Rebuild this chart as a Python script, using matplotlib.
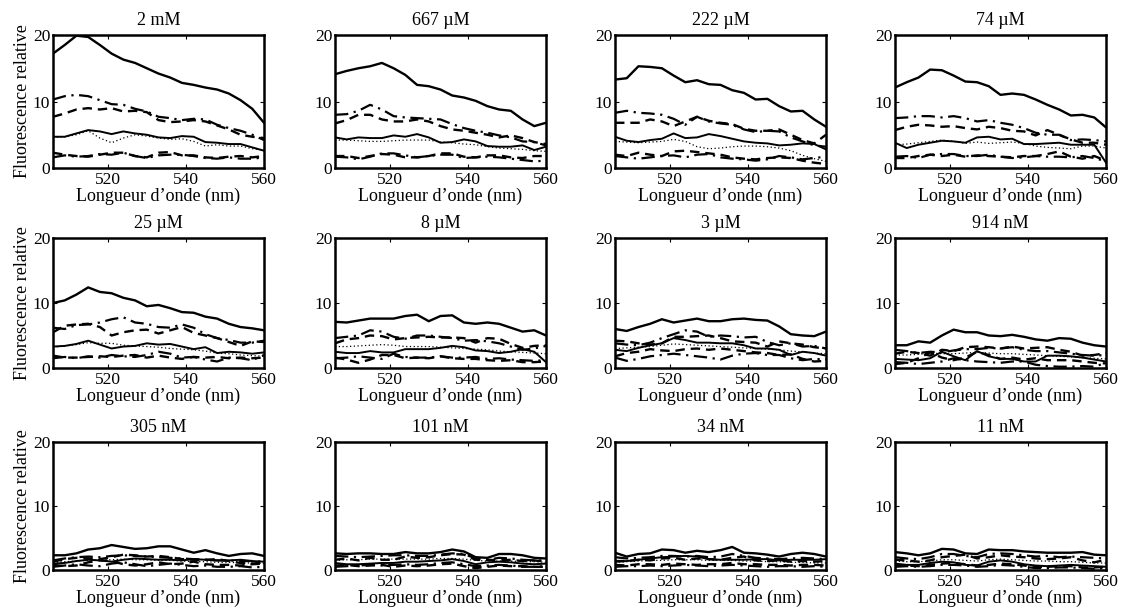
import matplotlib
matplotlib.use("Agg")
import matplotlib.pyplot as plt
import numpy as np

plt.rcParams['font.family'] = ['Liberation Serif', 'DejaVu Serif']

# wavelengths (nm), one reading every 3 nm
wl = np.arange(506, 561, 3)

labels = ['2 mM', '667 µM', '222 µM', '74 µM',
          '25 µM', '8 µM', '3 µM', '914 nM',
          '305 nM', '101 nM', '34 nM', '11 nM']

top_solid = [
    [17.2, 18.5, 19.9, 19.7, 18.5, 17.2, 16.3, 15.8, 15.0, 14.2, 13.6, 12.8, 12.5, 12.1, 11.8, 11.2, 10.2, 8.9, 6.8],
    [14.1, 14.6, 15.0, 15.3, 15.8, 15.0, 14.0, 12.5, 12.3, 11.8, 10.9, 10.6, 10.1, 9.3, 8.8, 8.6, 7.3, 6.3, 6.8],
    [13.3, 13.5, 15.3, 15.2, 15.0, 13.9, 12.9, 13.2, 12.6, 12.5, 11.7, 11.3, 10.3, 10.4, 9.3, 8.5, 8.6, 7.3, 6.2],
    [12.1, 12.9, 13.6, 14.8, 14.7, 13.9, 13.0, 12.9, 12.3, 11.0, 11.2, 11.0, 10.3, 9.5, 8.8, 7.9, 8.0, 7.6, 6.1],
    [10.0, 10.4, 11.3, 12.4, 11.7, 11.5, 10.8, 10.4, 9.5, 9.7, 9.2, 8.6, 8.5, 7.9, 7.6, 6.8, 6.3, 6.1, 5.8],
    [7.1, 7.0, 7.3, 7.6, 7.6, 7.6, 8.0, 8.2, 7.2, 8.0, 8.1, 7.0, 6.8, 7.0, 6.8, 6.2, 5.6, 5.8, 5.0],
    [6.0, 5.7, 6.3, 6.8, 7.5, 7.0, 7.3, 7.6, 7.2, 7.2, 7.5, 7.6, 7.4, 7.3, 6.4, 5.2, 5.0, 4.9, 5.6],
    [3.5, 3.5, 4.1, 3.9, 5.0, 5.9, 5.5, 5.5, 5.0, 4.9, 5.1, 4.8, 4.4, 4.2, 4.6, 4.5, 3.9, 3.5, 3.3],
    [2.3, 2.3, 2.6, 3.2, 3.4, 3.9, 3.6, 3.3, 3.4, 3.7, 3.7, 3.2, 2.7, 3.1, 2.6, 2.2, 2.5, 2.6, 2.2],
    [2.6, 2.5, 2.6, 2.6, 2.5, 2.5, 2.8, 2.6, 2.6, 2.8, 3.2, 2.9, 2.0, 1.9, 2.5, 2.5, 2.3, 1.9, 1.8],
    [2.7, 2.1, 2.5, 2.6, 3.2, 3.1, 2.7, 3.0, 2.8, 3.1, 3.6, 2.7, 2.6, 2.4, 2.1, 2.5, 2.7, 2.5, 2.1],
    [2.8, 2.6, 2.3, 2.6, 3.3, 3.2, 2.6, 2.5, 3.2, 3.1, 3.1, 2.9, 2.8, 2.7, 2.7, 2.7, 2.8, 2.4, 2.3],
]

upper_dashdot = [
    [10.3, 10.8, 11.0, 10.8, 10.2, 9.6, 9.5, 8.9, 8.5, 7.7, 7.5, 7.2, 7.4, 7.3, 6.5, 6.0, 5.6, 5.0, 4.2],
    [8.0, 8.1, 8.6, 9.5, 8.8, 7.8, 7.6, 7.5, 7.4, 7.3, 6.6, 6.0, 5.6, 5.3, 4.9, 4.6, 4.0, 3.9, 3.4],
    [8.3, 8.6, 8.3, 8.2, 8.0, 7.4, 6.5, 7.7, 7.0, 6.7, 6.5, 5.8, 5.4, 5.6, 5.5, 4.6, 4.0, 3.4, 3.2],
    [7.5, 7.6, 7.8, 7.8, 7.6, 7.8, 7.5, 7.0, 7.2, 6.8, 6.5, 6.0, 5.3, 5.0, 5.0, 4.2, 4.3, 4.2, 4.0],
    [6.2, 6.0, 6.6, 6.7, 7.0, 7.5, 7.8, 7.0, 6.8, 6.3, 6.2, 6.7, 6.2, 5.2, 4.6, 4.3, 3.9, 3.9, 4.2],
    [4.6, 4.8, 5.0, 5.8, 5.6, 4.8, 4.5, 5.0, 5.0, 4.8, 4.6, 4.2, 4.3, 4.1, 3.8, 3.3, 2.8, 3.0, 3.4],
    [3.8, 3.6, 3.5, 3.9, 4.6, 5.2, 5.8, 5.6, 4.8, 5.0, 4.9, 4.7, 4.8, 4.0, 3.5, 3.8, 3.3, 3.4, 3.0],
    [2.8, 2.6, 2.3, 2.5, 2.4, 2.7, 2.9, 2.9, 3.1, 3.0, 3.2, 2.8, 2.6, 2.6, 2.4, 2.2, 2.0, 1.9, 2.0],
    [1.5, 1.8, 2.0, 2.1, 2.0, 2.2, 2.3, 2.2, 2.1, 2.0, 1.9, 1.8, 1.7, 1.6, 1.5, 1.5, 1.4, 1.4, 1.3],
    [2.2, 2.1, 2.0, 2.1, 2.2, 2.3, 2.3, 2.2, 2.2, 2.4, 2.6, 2.5, 1.8, 1.6, 1.9, 1.8, 1.6, 1.5, 1.5],
    [2.0, 1.8, 1.9, 2.0, 2.2, 2.2, 2.1, 2.2, 2.0, 2.1, 2.5, 2.2, 1.9, 1.8, 1.7, 1.8, 1.9, 1.8, 1.7],
    [2.0, 1.8, 1.7, 2.0, 2.5, 2.5, 2.2, 2.0, 2.5, 2.6, 2.5, 2.3, 2.1, 2.2, 2.0, 2.1, 2.0, 1.9, 1.8],
]

upper_dashed = [
    [7.7, 8.2, 8.8, 9.0, 8.8, 9.0, 8.5, 8.6, 8.4, 7.2, 6.9, 7.0, 7.2, 7.0, 6.4, 5.8, 5.0, 4.7, 4.5],
    [6.7, 7.2, 8.0, 8.0, 7.3, 7.0, 7.0, 7.3, 7.0, 6.3, 5.8, 5.6, 5.3, 5.0, 4.6, 4.9, 4.5, 3.9, 3.6],
    [6.8, 6.8, 6.8, 7.3, 7.0, 6.3, 7.0, 7.7, 7.1, 6.8, 6.6, 5.9, 5.6, 5.6, 5.8, 5.0, 4.2, 3.7, 5.0],
    [5.7, 6.2, 6.5, 6.4, 6.2, 6.3, 6.0, 5.8, 6.2, 6.0, 5.6, 5.5, 4.9, 5.7, 5.0, 4.3, 3.8, 3.8, 3.5],
    [5.5, 6.5, 6.7, 6.8, 6.3, 5.0, 5.5, 5.8, 5.9, 5.3, 5.8, 6.3, 5.4, 5.0, 4.6, 4.0, 3.4, 4.1, 4.0],
    [3.8, 4.4, 4.6, 5.0, 4.9, 4.4, 4.6, 4.7, 4.8, 4.7, 4.7, 4.6, 3.9, 4.6, 4.5, 3.7, 3.1, 3.4, 3.5],
    [4.2, 4.1, 3.8, 3.6, 3.8, 4.8, 4.8, 4.9, 5.0, 4.6, 4.1, 4.0, 3.9, 3.3, 4.1, 3.8, 3.6, 3.2, 3.0],
    [2.2, 2.5, 2.3, 1.9, 2.8, 2.6, 3.2, 3.3, 3.2, 3.0, 3.3, 3.0, 3.1, 3.2, 2.8, 2.5, 1.9, 2.0, 2.3],
    [1.3, 1.7, 1.9, 1.8, 1.7, 2.0, 2.4, 2.3, 2.1, 2.2, 2.0, 1.7, 1.6, 1.6, 1.7, 1.4, 1.1, 1.0, 1.2],
    [1.6, 1.8, 1.5, 1.9, 1.6, 1.6, 2.1, 1.9, 2.0, 2.3, 2.5, 2.4, 1.6, 1.6, 1.5, 1.6, 1.4, 1.5, 1.3],
    [1.4, 1.4, 1.6, 1.5, 1.8, 1.9, 1.6, 1.8, 1.7, 1.6, 1.9, 2.1, 1.5, 1.4, 1.5, 1.3, 1.4, 1.3, 1.4],
    [1.6, 1.5, 1.3, 1.5, 2.0, 2.2, 2.4, 1.8, 2.0, 2.3, 2.1, 2.0, 1.8, 1.7, 1.8, 2.0, 1.5, 1.2, 1.6],
]

mid_solid = [
    [4.7, 4.7, 5.2, 5.7, 5.5, 5.1, 5.5, 5.2, 5.0, 4.6, 4.5, 4.8, 4.7, 3.9, 3.8, 3.6, 3.6, 3.1, 2.6],
    [4.6, 4.3, 4.6, 4.5, 4.5, 4.9, 4.7, 5.1, 4.6, 3.8, 3.9, 4.3, 4.0, 3.3, 3.2, 3.2, 3.4, 2.7, 3.2],
    [4.7, 4.1, 3.9, 4.2, 4.4, 5.2, 4.5, 4.6, 5.1, 4.8, 4.4, 4.0, 3.8, 3.7, 3.4, 3.5, 3.7, 3.6, 2.8],
    [3.8, 3.0, 3.5, 3.8, 4.1, 4.0, 3.8, 4.6, 4.7, 4.3, 4.4, 3.6, 3.6, 3.7, 3.8, 3.5, 3.5, 3.5, 0.8],
    [3.3, 3.4, 3.7, 4.2, 3.6, 3.0, 3.3, 3.4, 3.8, 3.6, 3.7, 3.3, 2.9, 3.2, 2.3, 2.5, 2.4, 2.2, 2.4],
    [2.5, 2.3, 2.3, 2.6, 2.4, 2.4, 2.9, 2.9, 2.9, 3.1, 3.4, 3.2, 2.7, 2.6, 2.3, 2.5, 2.9, 2.5, 0.9],
    [2.8, 2.6, 3.1, 3.5, 3.8, 4.6, 4.3, 3.9, 3.9, 3.8, 3.8, 3.5, 3.0, 3.0, 2.8, 2.0, 2.5, 2.3, 1.9],
    [1.4, 1.3, 1.2, 1.5, 2.5, 1.8, 1.2, 2.6, 1.8, 1.4, 1.4, 1.0, 1.0, 1.9, 1.9, 1.8, 1.6, 1.3, 1.0],
    [1.0, 1.1, 1.4, 1.6, 1.5, 1.3, 1.6, 1.8, 1.7, 1.6, 1.6, 1.5, 1.7, 1.6, 1.5, 1.5, 1.6, 1.4, 1.3],
    [1.1, 0.9, 0.9, 1.0, 1.1, 1.1, 1.3, 1.3, 1.4, 1.5, 1.7, 1.4, 0.9, 1.2, 1.3, 1.2, 1.0, 0.9, 1.0],
    [1.3, 1.4, 1.6, 1.8, 2.0, 2.1, 2.2, 2.1, 1.7, 1.6, 1.6, 1.6, 1.7, 1.7, 1.5, 1.6, 1.6, 1.6, 1.7],
    [1.0, 0.8, 0.8, 1.1, 1.3, 1.2, 0.8, 0.7, 1.3, 1.5, 1.3, 0.9, 0.7, 0.6, 0.7, 0.8, 0.7, 0.6, 0.5],
]

mid_dotted = [
    [4.6, 4.7, 5.0, 5.6, 4.5, 3.8, 4.5, 5.0, 4.8, 4.5, 4.3, 4.4, 4.0, 3.3, 3.5, 3.3, 3.3, 2.9, 2.7],
    [4.2, 4.2, 4.1, 4.0, 4.0, 4.1, 4.2, 4.2, 4.2, 3.9, 3.8, 3.6, 3.5, 3.2, 3.0, 2.9, 2.8, 2.6, 2.5],
    [4.0, 3.9, 3.8, 3.9, 4.0, 4.3, 4.0, 3.2, 2.9, 3.0, 3.2, 3.3, 3.3, 3.2, 3.0, 2.6, 1.9, 1.4, 1.0],
    [3.5, 3.6, 3.8, 4.0, 4.2, 4.0, 3.7, 3.9, 3.7, 3.8, 3.9, 3.7, 3.3, 3.1, 3.0, 2.9, 3.3, 3.3, 3.0],
    [3.2, 3.4, 3.6, 3.9, 3.8, 3.8, 3.5, 3.4, 3.3, 3.2, 3.0, 2.9, 2.8, 2.6, 2.3, 2.2, 2.0, 1.9, 1.8],
    [3.3, 3.3, 3.4, 3.5, 3.6, 3.5, 3.3, 3.3, 3.3, 3.2, 3.1, 3.0, 2.9, 2.8, 2.6, 2.5, 2.4, 2.3, 2.2],
    [3.0, 3.1, 3.2, 3.3, 3.5, 3.7, 3.6, 3.5, 3.4, 3.3, 3.2, 3.1, 3.0, 2.9, 2.8, 2.6, 2.5, 2.3, 2.2],
    [2.0, 2.0, 2.1, 2.3, 2.2, 2.2, 2.3, 2.4, 2.3, 2.2, 2.2, 2.1, 2.0, 1.9, 1.8, 1.7, 1.6, 1.5, 1.4],
    [1.2, 1.3, 1.4, 1.5, 1.6, 1.6, 1.7, 1.6, 1.6, 1.5, 1.5, 1.4, 1.3, 1.3, 1.2, 1.2, 1.1, 1.1, 1.0],
    [1.5, 1.6, 1.6, 1.7, 1.7, 1.7, 1.7, 1.7, 1.7, 1.8, 1.8, 1.7, 1.5, 1.4, 1.4, 1.4, 1.3, 1.3, 1.2],
    [1.2, 1.3, 1.4, 1.5, 1.5, 1.6, 1.6, 1.6, 1.5, 1.5, 1.5, 1.4, 1.4, 1.3, 1.3, 1.2, 1.2, 1.1, 1.1],
    [1.4, 1.3, 1.3, 1.4, 1.6, 1.6, 1.5, 1.4, 1.6, 1.7, 1.6, 1.5, 1.4, 1.4, 1.3, 1.3, 1.2, 1.1, 1.1],
]

low_dashed = [
    [2.3, 2.0, 1.8, 1.7, 2.0, 2.3, 2.3, 1.8, 1.6, 2.3, 2.4, 1.9, 1.9, 1.6, 1.5, 1.7, 1.8, 1.6, 1.8],
    [1.8, 1.8, 1.5, 1.8, 2.1, 2.0, 1.6, 1.6, 1.8, 2.2, 2.2, 1.7, 1.6, 1.9, 1.9, 1.6, 1.5, 1.8, 1.8],
    [2.0, 1.8, 2.3, 2.0, 1.8, 2.5, 2.6, 2.4, 2.2, 2.0, 1.6, 1.4, 1.3, 1.5, 1.6, 1.5, 1.1, 0.8, 0.6],
    [1.5, 1.5, 1.8, 2.0, 1.8, 2.0, 1.7, 1.9, 1.8, 1.7, 1.6, 1.8, 1.8, 2.1, 2.5, 1.7, 1.4, 1.8, 1.1],
    [1.9, 1.6, 1.6, 1.7, 1.8, 1.7, 1.9, 2.0, 1.6, 1.9, 1.6, 1.4, 1.7, 1.6, 1.7, 1.5, 1.6, 1.5, 1.6],
    [1.6, 1.3, 0.8, 1.3, 2.0, 2.0, 1.5, 1.6, 1.5, 1.8, 1.5, 1.4, 1.4, 1.2, 1.1, 1.2, 0.9, 0.9, 1.0],
    [1.8, 2.3, 2.5, 2.9, 2.7, 2.6, 2.9, 3.0, 2.8, 3.0, 2.8, 2.6, 2.4, 2.3, 2.0, 2.1, 1.4, 1.0, 1.1],
    [0.6, 0.8, 1.5, 2.4, 1.6, 1.2, 1.6, 2.5, 2.0, 1.4, 1.6, 1.3, 1.5, 1.2, 1.2, 1.2, 1.0, 0.8, 0.7],
    [0.8, 0.6, 0.7, 1.2, 1.5, 1.4, 0.9, 0.7, 0.9, 1.2, 0.9, 1.0, 1.3, 0.9, 0.8, 0.8, 0.7, 0.9, 1.0],
    [0.7, 0.8, 0.6, 0.7, 0.8, 0.5, 0.7, 0.6, 0.7, 0.9, 1.0, 0.6, 0.3, 0.5, 0.7, 0.6, 0.6, 0.5, 0.5],
    [0.8, 0.7, 0.9, 0.9, 0.8, 1.0, 0.9, 0.8, 0.9, 0.9, 1.1, 0.9, 0.9, 0.8, 0.8, 0.7, 0.8, 0.8, 0.7],
    [0.8, 0.7, 0.6, 0.8, 1.0, 1.1, 0.9, 0.7, 0.8, 1.0, 0.9, 0.7, 0.5, 0.5, 0.6, 0.6, 0.4, 0.4, 0.5],
]

low_dashdot = [
    [1.6, 1.9, 1.7, 1.8, 2.1, 2.0, 2.3, 1.8, 1.5, 1.9, 2.0, 2.0, 1.8, 1.5, 1.4, 1.6, 1.4, 1.4, 1.6],
    [1.7, 1.6, 1.3, 1.7, 2.2, 2.2, 1.9, 1.6, 1.8, 2.0, 2.0, 1.5, 1.6, 1.7, 1.6, 1.4, 1.2, 1.0, 1.1],
    [1.8, 1.6, 1.4, 1.6, 1.8, 1.9, 1.6, 2.0, 2.1, 1.6, 1.4, 1.3, 1.1, 1.3, 1.8, 1.6, 1.3, 1.5, 1.7],
    [1.7, 1.8, 1.5, 2.0, 2.1, 2.1, 1.8, 1.8, 2.0, 1.7, 1.5, 1.6, 1.8, 1.7, 1.7, 1.6, 1.8, 1.5, 1.0],
    [1.5, 1.7, 1.5, 1.8, 1.6, 2.0, 1.8, 1.7, 2.0, 2.5, 2.2, 1.6, 1.7, 1.3, 1.0, 1.6, 1.5, 1.2, 2.0],
    [1.5, 1.6, 1.8, 1.6, 1.4, 2.2, 1.7, 1.6, 1.6, 1.8, 1.6, 1.6, 1.7, 1.4, 1.5, 1.3, 1.2, 1.1, 1.2],
    [1.6, 1.1, 1.4, 1.8, 2.0, 2.2, 2.0, 1.8, 1.6, 1.3, 1.9, 2.2, 2.3, 2.0, 2.0, 1.5, 1.2, 1.4, 1.3],
    [0.9, 0.8, 0.6, 0.8, 1.0, 1.5, 1.2, 1.0, 0.9, 0.8, 1.0, 1.0, 0.5, 0.3, 0.2, 0.2, 0.3, 0.2, 0.8],
    [0.5, 0.7, 0.9, 0.7, 0.6, 1.0, 1.2, 0.9, 0.6, 0.8, 1.0, 0.8, 0.6, 0.7, 0.5, 0.5, 0.6, 0.4, 0.5],
    [0.5, 0.6, 0.7, 0.8, 0.7, 0.8, 0.9, 0.8, 0.9, 1.1, 1.2, 0.9, 0.6, 0.7, 0.8, 0.7, 0.5, 0.5, 0.6],
    [0.5, 0.6, 0.6, 0.7, 0.6, 0.7, 0.8, 0.7, 0.6, 0.7, 0.8, 0.7, 0.6, 0.5, 0.6, 0.6, 0.5, 0.6, 0.5],
    [0.5, 0.6, 0.5, 0.6, 0.8, 0.8, 0.7, 0.5, 0.6, 0.8, 0.7, 0.5, 0.3, 0.3, 0.4, 0.4, 0.3, 0.2, 0.3],
]

# (data, linestyle, linewidth)
styles = [
    (top_solid, '-', 1.7),
    (upper_dashdot, (0, (6, 2.5, 1, 2.5)), 1.6),
    (upper_dashed, (0, (4, 2.5)), 1.7),
    (mid_solid, '-', 1.4),
    (mid_dotted, (0, (1, 2)), 0.9),
    (low_dashed, (0, (4, 2.5)), 1.7),
    (low_dashdot, (0, (6, 2.5, 1, 2.5)), 1.6),
]

W, H = 1128, 614
lefts = [53, 335, 615, 895]
tops = [35, 238, 442]
bottoms = [168, 368, 570]
width = 211

fig = plt.figure(figsize=(W / 100, H / 100), dpi=100)
for i, lab in enumerate(labels):
    r, c = divmod(i, 4)
    ax = fig.add_axes([lefts[c] / W, 1 - bottoms[r] / H, width / W, (bottoms[r] - tops[r]) / H])
    for data, ls, lw in styles:
        ax.plot(wl, data[i], color='black', linestyle=ls, linewidth=lw)
    ax.set_xlim(506, 560)
    ax.set_ylim(0, 20)
    ax.set_xticks([520, 540, 560])
    ax.set_yticks([0, 10, 20])
    ax.tick_params(direction='in', top=True, right=True, length=3, width=0.8,
                   labelsize=12.5)
    ax.tick_params(axis='x', pad=3)
    ax.tick_params(axis='y', pad=2)
    for s in ax.spines.values():
        s.set_linewidth(1.8)
    ax.set_title(lab, fontsize=13, pad=7)
    ax.set_xlabel('Longueur d’onde (nm)', fontsize=13, labelpad=0)
    if c == 0:
        ax.set_ylabel('Fluorescence relative', fontsize=13, labelpad=1)

fig.savefig('out.png', dpi=100)
